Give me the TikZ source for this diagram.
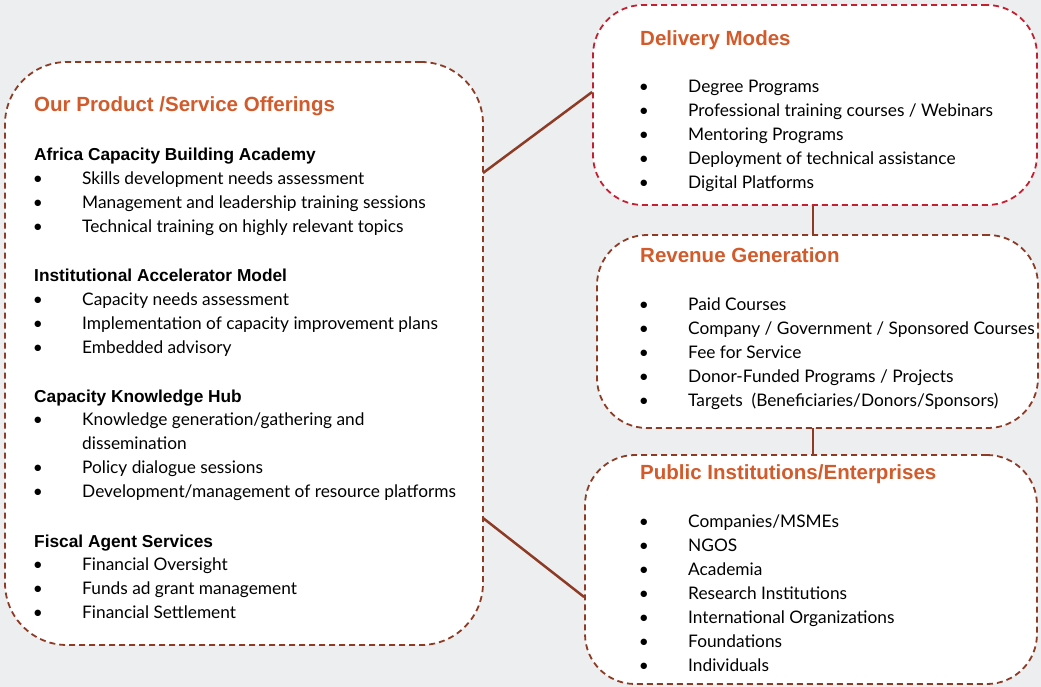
\documentclass[tikz,border=0pt]{standalone}
\usepackage{fontspec}
\setmainfont{Lato}
\newfontfamily\headfont{Liberation Sans}
\usetikzlibrary{positioning}
\definecolor{bgrey}{HTML}{EDEEF0}
\definecolor{rust}{HTML}{8E3B25}
\definecolor{crimson}{HTML}{C42032}
\definecolor{headorange}{HTML}{D35A2A}
\tikzset{
  panel/.style={draw=rust, dash pattern=on 6pt off 4pt, line width=1.8pt, fill=white, rounded corners=50pt, inner sep=0pt},
  link/.style={draw=rust, line width=2.5pt},
  title/.style={anchor=base west, inner sep=0pt, font=\headfont\bfseries\fontsize{20.5}{24}\selectfont, text=headorange},
  subhead/.style={anchor=base west, inner sep=0pt, font=\headfont\bfseries\fontsize{17.3}{20}\selectfont},
  item/.style={anchor=base west, inner sep=0pt, font=\fontsize{17.3}{24}\selectfont},
  dot/.style={anchor=base, inner sep=0pt, font=\fontsize{17.3}{24}\selectfont}
}
\begin{document}
\begin{tikzpicture}[x=1pt,y=-1pt]
\useasboundingbox[fill=bgrey] (0,0) rectangle (1041,687);
% boxes
\node[panel, rounded corners=62pt, minimum width=478pt, minimum height=583pt] (offer) at (244,353.5) {};
\node[panel, draw=crimson, minimum width=444pt, minimum height=200pt] (delivery) at (815,105) {};
\node[panel, minimum width=441pt, minimum height=193pt] (revenue) at (817.5,331.5) {};
\node[panel, minimum width=452pt, minimum height=229pt] (public) at (811,569.5) {};
% connectors
\coordinate (o1) at (483,173);
\coordinate (o2) at (483,518);
\draw[link] (o1) -- (delivery.west |- 0,92);
\draw[link] (o2) -- (public.west |- 0,597);
\draw[link] (813,205) coordinate (d1) -- (d1 |- revenue.north);
\draw[link] (813,428) coordinate (r1) -- (r1 |- public.north);
% left box
\node[title] (offert) at (34,112) {Our Product /Service Offerings};
\node[subhead] (acba) at (34,161) {Africa Capacity Building Academy};
\foreach \t [count=\i] in {Skills development needs assessment, Management and leadership training sessions, Technical training on highly relevant topics}
  \node[item] (acba\i) at (82,161+24*\i) {\t};
\node[subhead] (iam) at (34,281) {Institutional Accelerator Model};
\foreach \t [count=\i] in {Capacity needs assessment, Implementation of capacity improvement plans, Embedded advisory}
  \node[item] (iam\i) at (82,281+24*\i) {\t};
\node[subhead] (ckh) at (34,402) {Capacity Knowledge Hub};
\node[item] (ckh1) at (82,425) {Knowledge generation/gathering and};
\node[item] (ckh1b) at (82,449) {dissemination};
\node[item] (ckh2) at (82,473) {Policy dialogue sessions};
\node[item] (ckh3) at (82,497) {Development/management of resource platforms};
\node[subhead] (fas) at (34,547) {Fiscal Agent Services};
\foreach \t [count=\i] in {Financial Oversight, Funds ad grant management, Financial Settlement}
  \node[item] (fas\i) at (82,546+24*\i) {\t};
\foreach \y in {185,209,233,305,329,353,425,473,497,570,594,618}
  \node[dot] at (38,\y) {•};
% delivery modes
\node[title] (deliveryt) at (640,46) {Delivery Modes};
\foreach \t [count=\i] in {Degree Programs, Professional training courses / Webinars, Mentoring Programs, Deployment of technical assistance, Digital Platforms}
  {\node[item] (dm\i) at (688,69+24*\i) {\t};
   \node[dot] at (644,69+24*\i) {•};}
% revenue generation
\node[title] (revenuet) at (640,262) {Revenue Generation};
\foreach \t [count=\i] in {Paid Courses, Company / Government / Sponsored Courses, Fee for Service, Donor-Funded Programs / Projects, Targets~ (Beneficiaries/Donors/Sponsors)}
  {\node[item] (rg\i) at (688,286+24*\i) {\t};
   \node[dot] at (644,286+24*\i) {•};}
% public institutions
\node[title] (publict) at (640,479) {Public Institutions/Enterprises};
\foreach \t [count=\i] in {Companies/MSMEs, NGOS, Academia, Research Institutions, International Organizations, Foundations, Individuals}
  {\node[item] (pi\i) at (688,503+24*\i) {\t};
   \node[dot] at (644,503+24*\i) {•};}
\end{tikzpicture}
\end{document}
